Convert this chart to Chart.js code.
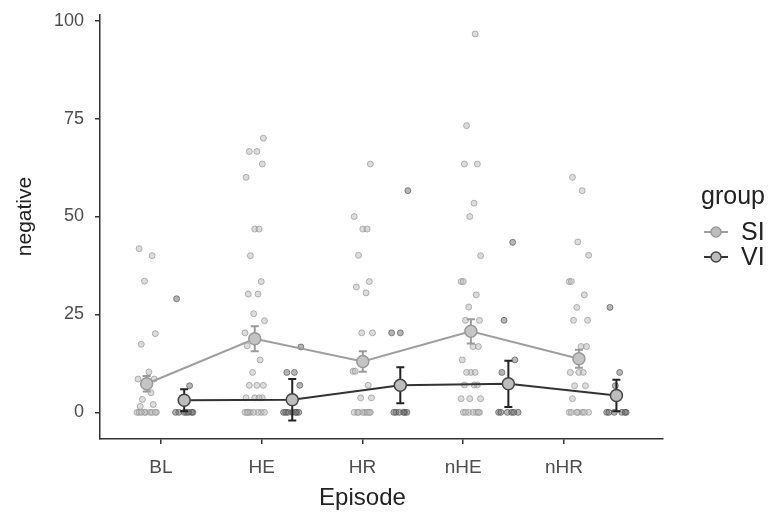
<!DOCTYPE html>
<html>
<head>
<meta charset="utf-8">
<script src="https://cdn.jsdelivr.net/npm/chart.js@4"></script>
<style>
  html, body { margin: 0; padding: 0; background: #fff; }
  #wrap { width: 769px; height: 516px; }
</style>
</head>
<body>
<div id="wrap"><canvas id="chart" width="769" height="516"></canvas></div>
<script>
// categories and tick labels
const episodes = ['BL', 'HE', 'HR', 'nHE', 'nHR'];
const yTicks = [0, 25, 50, 75, 100];
const groups = ['SI', 'VI'];

// group means and standard errors
const siMean = [7.3, 18.8, 13.0, 20.7, 13.7];
const siSe   = [2.0, 3.2, 2.6, 3.1, 2.3];
const viMean = [3.1, 3.2, 6.9, 7.3, 4.3];
const viSe   = [2.8, 5.3, 4.6, 5.9, 4.0];

// raw observations per episode
const siBL  = [41.8, 40.0, 33.5, 20.1, 17.4, 10.3, 8.5, 8.5, 6.7, 5.0, 3.3, 2.0, 1.5, 0, 0, 0, 0, 0, 0, 0, 0, 0];
const siHE  = [70.0, 66.6, 66.6, 63.4, 60.0, 46.8, 46.8, 40.0, 33.4, 30.2, 30.2, 25.2, 23.4, 20.3, 17.0, 13.4, 10.2, 6.9, 6.9, 6.9, 3.7, 3.7, 3.7, 3.7, 0, 0, 0, 0, 0, 0, 0, 0];
const siHR  = [63.4, 50.0, 46.8, 46.8, 40.1, 33.4, 32.0, 30.5, 20.3, 20.3, 10.5, 10.5, 6.9, 3.7, 3.7, 0, 0, 0, 0, 0, 0, 0, 0];
const siNHE = [96.6, 73.2, 63.4, 63.4, 53.4, 50.0, 40.0, 33.4, 33.4, 30.0, 26.9, 23.5, 23.5, 16.8, 16.8, 13.4, 10.2, 10.2, 10.2, 7.0, 7.0, 7.0, 3.5, 3.5, 3.5, 0, 0, 0, 0, 0, 0, 0];
const siNHR = [60.0, 56.6, 43.5, 40.1, 33.4, 33.4, 30.0, 26.8, 23.5, 23.5, 16.8, 16.8, 10.2, 10.2, 10.2, 6.8, 6.8, 3.5, 0, 0, 0, 0, 0, 0, 0];
const viBL  = [29.0, 6.8, 3.7, 0, 0, 0, 0, 0, 0, 0];
const viHE  = [16.7, 10.2, 10.2, 6.9, 0, 0, 0, 0, 0, 0, 0];
const viHR  = [56.6, 20.3, 20.3, 0, 0, 0, 0, 0, 0];
const viNHE = [43.4, 23.5, 13.4, 10.2, 0, 0, 0, 0, 0, 0];
const viNHR = [26.8, 10.2, 6.8, 0, 0, 0, 0, 0, 0];

const siRaw = [siBL, siHE, siHR, siNHE, siNHR];
const viRaw = [viBL, viHE, viHR, viNHE, viNHR];

// fixed jitter pattern (x spread of raw points) and dodge between groups
const jitter = [-0.07, 0.05, -0.02, 0.08, -0.05, 0.02, 0.07, -0.08, 0.0, 0.04, -0.04, 0.06, -0.06, 0.03, -0.01, 0.09, -0.09];
const dodge = 0.347;

function rawPoints(raw, shift) {
  const pts = [];
  raw.forEach((vals, i) => {
    vals.forEach((v, k) => pts.push({ x: i + shift + jitter[(k + i * 3) % jitter.length], y: v }));
  });
  return pts;
}

function meanPoints(means, shift) {
  return means.map((m, i) => ({ x: i + shift, y: m }));
}

const FONT = "'Liberation Sans', Arial, sans-serif";

// error bars drawn just before each mean line
const errorBars = {
  id: 'errorBars',
  beforeDatasetDraw(chart, args) {
    const ds = chart.data.datasets[args.index];
    if (!ds.se) return;
    const ctx = chart.ctx, xs = chart.scales.xd, ys = chart.scales.y;
    ctx.save();
    ctx.strokeStyle = ds.barColor;
    ctx.lineWidth = 2;
    ds.data.forEach((p, i) => {
      const x = xs.getPixelForValue(p.x);
      const y1 = ys.getPixelForValue(p.y + ds.se[i]);
      const y2 = ys.getPixelForValue(p.y - ds.se[i]);
      ctx.beginPath();
      ctx.moveTo(x, y1); ctx.lineTo(x, y2);
      ctx.moveTo(x - 4, y1); ctx.lineTo(x + 4, y1);
      ctx.moveTo(x - 4, y2); ctx.lineTo(x + 4, y2);
      ctx.stroke();
    });
    ctx.restore();
  }
};

// axis titles + legend, ggplot style
const extras = {
  id: 'extras',
  afterDraw(chart) {
    const ctx = chart.ctx;
    const xs = chart.scales.x, ys = chart.scales.y;
    ctx.save();
    ctx.fillStyle = '#222';
    ctx.textAlign = 'center';
    ctx.textBaseline = 'middle';

    ctx.font = '24px ' + FONT;
    const cx = (xs.getPixelForValue(0) + xs.getPixelForValue(episodes.length - 1)) / 2;
    ctx.fillText('Episode', cx, 498);

    ctx.save();
    ctx.font = '21px ' + FONT;
    ctx.translate(25, (ys.getPixelForValue(0) + ys.getPixelForValue(100)) / 2);
    ctx.rotate(-Math.PI / 2);
    ctx.fillText('negative', 0, 0);
    ctx.restore();

    ctx.font = '25px ' + FONT;
    ctx.textAlign = 'left';
    ctx.fillText('group', 701, 197);
    const items = [
      { label: groups[0], line: '#9e9e9e', edge: '#999', y: 232 },
      { label: groups[1], line: '#333', edge: '#444', y: 257 },
    ];
    items.forEach(it => {
      ctx.strokeStyle = it.line;
      ctx.lineWidth = 2;
      ctx.beginPath(); ctx.moveTo(704, it.y); ctx.lineTo(728, it.y); ctx.stroke();
      ctx.beginPath(); ctx.arc(716, it.y, 5, 0, Math.PI * 2);
      ctx.fillStyle = '#bdbdbd'; ctx.fill();
      ctx.strokeStyle = it.edge; ctx.lineWidth = 1.5; ctx.stroke();
      ctx.fillStyle = '#222';
      ctx.fillText(it.label, 741, it.y + 1);
    });
    ctx.restore();
  }
};

new Chart(document.getElementById('chart').getContext('2d'), {
  type: 'scatter',
  data: {
    datasets: [
      {
        label: groups[1] + ' mean',
        type: 'line',
        data: meanPoints(viMean, dodge),
        se: viSe,
        barColor: '#222',
        borderColor: '#333',
        borderWidth: 2,
        pointRadius: 6,
        pointBackgroundColor: '#bdbdbd',
        pointBorderColor: '#444',
        pointBorderWidth: 1.5,
        xAxisID: 'xd',
        clip: false,
        order: 1,
      },
      {
        label: groups[0] + ' mean',
        type: 'line',
        data: meanPoints(siMean, 0),
        se: siSe,
        barColor: '#9a9a9a',
        borderColor: '#9e9e9e',
        borderWidth: 2,
        pointRadius: 6,
        pointBackgroundColor: '#c4c4c4',
        pointBorderColor: '#999',
        pointBorderWidth: 1.5,
        xAxisID: 'xd',
        clip: false,
        order: 2,
      },
      {
        label: groups[1],
        data: rawPoints(viRaw, dodge),
        pointRadius: 3,
        backgroundColor: 'rgba(110,110,110,0.5)',
        borderColor: 'rgba(70,70,70,0.6)',
        borderWidth: 1,
        xAxisID: 'xd',
        clip: false,
        order: 3,
      },
      {
        label: groups[0],
        data: rawPoints(siRaw, 0),
        pointRadius: 3,
        backgroundColor: 'rgba(185,185,185,0.5)',
        borderColor: 'rgba(145,145,145,0.65)',
        borderWidth: 1,
        xAxisID: 'xd',
        clip: false,
        order: 4,
      },
    ]
  },
  options: {
    responsive: false,
    animation: false,
    layout: { padding: { top: 15, right: 106, left: 0, bottom: 0 } },
    plugins: {
      legend: { display: false },
      tooltip: { enabled: false },
    },
    scales: {
      x: {
        type: 'linear',
        min: -0.605,
        max: 4.983,
        afterBuildTicks: axis => { axis.ticks = episodes.map((e, i) => ({ value: i })); },
        afterFit: scale => { scale.height = 77; scale.paddingLeft = 0; scale.paddingRight = 0; },
        border: { display: true, color: '#333', width: 1.5 },
        grid: { display: true, drawOnChartArea: false, drawTicks: true, tickLength: 5, color: '#333', lineWidth: 1.5 },
        ticks: {
          autoSkip: false,
          maxRotation: 0,
          padding: 12,
          font: { family: FONT, size: 19 },
          color: '#4d4d4d',
          callback: v => episodes[v],
        },
      },
      xd: {
        type: 'linear',
        display: false,
        min: -0.432,
        max: 4.778,
      },
      y: {
        min: -6.8,
        max: 101.45,
        afterBuildTicks: axis => { axis.ticks = yTicks.map(v => ({ value: v })); },
        afterFit: scale => { scale.width = 100; scale.paddingTop = 0; scale.paddingBottom = 0; },
        border: { display: true, color: '#333', width: 1.5 },
        grid: { display: true, drawOnChartArea: false, drawTicks: true, tickLength: 5, color: '#333', lineWidth: 1.5 },
        ticks: {
          padding: 11,
          font: { family: FONT, size: 18 },
          color: '#4d4d4d',
        },
      },
    }
  },
  plugins: [errorBars, extras],
});
</script>
</body>
</html>
